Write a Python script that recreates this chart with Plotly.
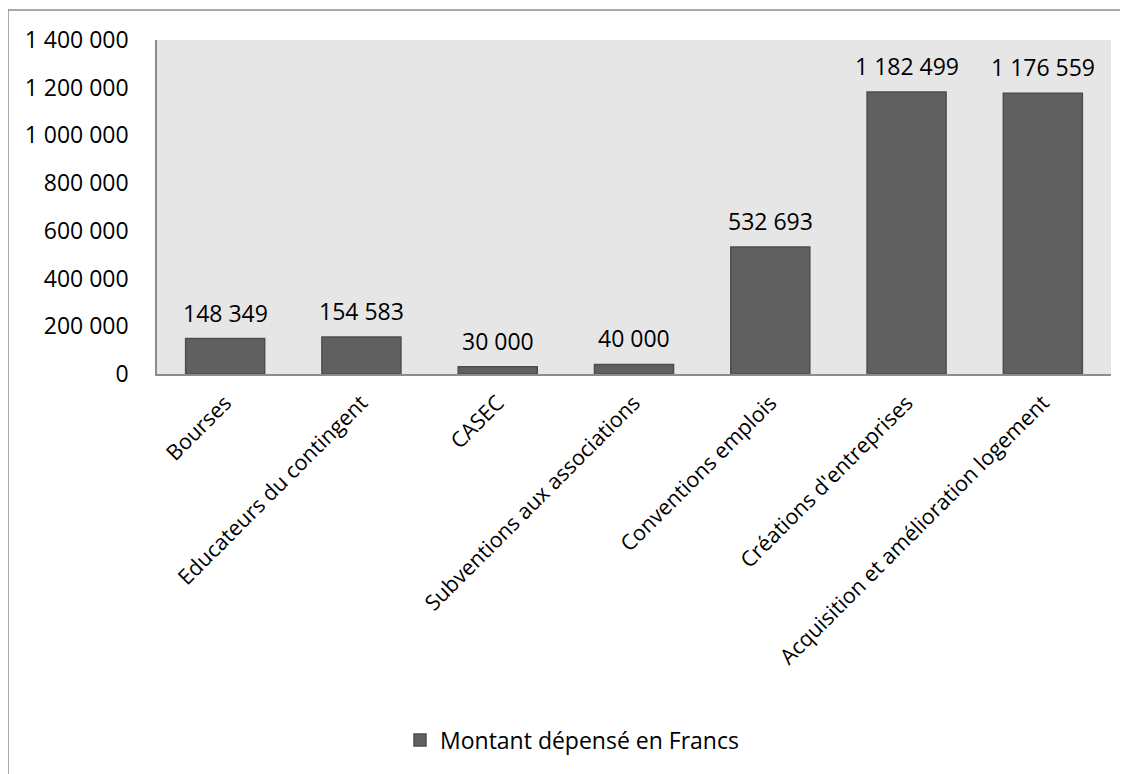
import plotly.graph_objects as go

categories = ["Bourses", "Educateurs du contingent", "CASEC", "Subventions aux associations",
              "Conventions emplois", "Créations d'entreprises", "Acquisition et amélioration logement"]
values = [148349, 154583, 30000, 40000, 532693, 1182499, 1176559]
series_name = "Montant dépensé en Francs"
y_ticks = [0, 200000, 400000, 600000, 800000, 1000000, 1200000, 1400000]


def fmt(v):
    return f"{v:,}".replace(",", " ")


FONT = "Open Sans"
FS = 23
OFF = 8  # default page body margin

fig = go.Figure()
fig.add_trace(go.Bar(
    x=categories, y=values, name=series_name,
    marker=dict(color="#606060", line=dict(color="#4d4d4d", width=1.5)),
    cliponaxis=False,
))

# page-coordinate layout of the reference
W, H = 1128, 774
L, R, T, B = 157, 1111, 40, 374
pw, ph = R - L, B - T


def px(x):
    return (x - L) / pw


def py(y):
    return (B - y) / ph


annotations = [dict(x=c, y=v, xref="x", yref="y", text=fmt(v), showarrow=False,
                    yanchor="middle", yshift=26, font=dict(family=FONT, size=FS, color="#000000"))
               for c, v in zip(categories, values)]

fig.update_layout(
    width=W - OFF, height=H - OFF,
    margin=dict(l=L - OFF, r=W - R, t=T - OFF, b=H - B, autoexpand=False),
    paper_bgcolor="white", plot_bgcolor="#e6e6e6",
    font=dict(family=FONT, size=FS, color="#000000"),
    bargap=0.42,
    showlegend=True,
    legend=dict(orientation="h", x=px(400), xanchor="left", y=py(740), yanchor="middle",
                font=dict(family=FONT, size=FS), bgcolor="rgba(0,0,0,0)"),
    xaxis=dict(tickangle=-45, showline=True, linecolor="#8c8c8c", linewidth=1.5,
               showgrid=False, ticks="", ticklabelstandoff=6,
               tickfont=dict(family=FONT, size=21.5)),
    yaxis=dict(range=[0, 1400000], tickvals=y_ticks, ticktext=[fmt(v) for v in y_ticks],
               showline=True, linecolor="#8c8c8c", linewidth=1.5, showgrid=False,
               zeroline=False, ticks="", ticklabelstandoff=22,
               tickfont=dict(family=FONT, size=FS)),
    annotations=annotations,
    shapes=[
        dict(type="line", xref="paper", yref="paper", x0=px(8), x1=px(1140), y0=py(10), y1=py(10),
             line=dict(color="#8c8c8c", width=1.5)),
        dict(type="line", xref="paper", yref="paper", x0=px(8), x1=px(8), y0=py(10), y1=py(790),
             line=dict(color="#8c8c8c", width=1.5)),
    ],
)

fig.write_html("out.html")
